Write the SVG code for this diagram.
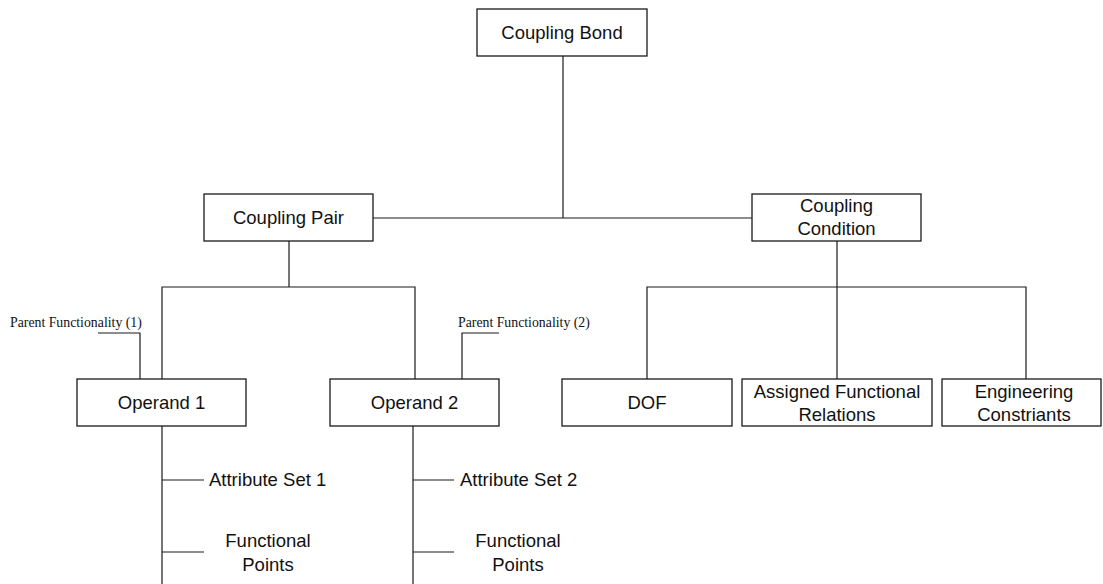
<svg xmlns="http://www.w3.org/2000/svg" width="1103" height="584" viewBox="0 0 1103 584">
  <style>
    .box { fill: #ffffff; stroke: #1a1a1a; stroke-width: 1.3; }
    .lbl { font-family: "Liberation Sans", Arial, sans-serif; font-size: 18.5px; fill: #111111; text-anchor: middle; }
    .side { font-family: "Liberation Sans", Arial, sans-serif; font-size: 18.5px; fill: #111111; }
    .note { font-family: "Liberation Serif", "Times New Roman", serif; font-size: 13.8px; fill: #111111; }
    .wire { fill: none; stroke: #1a1a1a; stroke-width: 1.2; }
  </style>
  <rect width="1103" height="584" fill="#ffffff"/>

  <!-- tree connectors -->
  <g id="connectors">
    <path class="wire" d="M563,56 V218"/>
    <path class="wire" d="M373,218 H752"/>
    <path class="wire" d="M289,241 V287"/>
    <path class="wire" d="M162,379 V287 H415 V379"/>
    <path class="wire" d="M98,333 H140 V379"/>
    <path class="wire" d="M499,333 H462 V379"/>
    <path class="wire" d="M837,241 V379"/>
    <path class="wire" d="M647,379 V287 H1026 V379"/>
    <path class="wire" d="M162,426 V584 M162,480 H204 M162,552 H204"/>
    <path class="wire" d="M413,426 V584 M413,480 H454 M413,552 H454"/>
  </g>

  <g id="coupling-bond">
    <rect class="box" x="477" y="9" width="170" height="47"/>
    <text class="lbl" x="562" y="39">Coupling Bond</text>
  </g>

  <g id="coupling-pair">
    <rect class="box" x="204" y="194" width="169" height="47"/>
    <text class="lbl" x="288.5" y="224">Coupling Pair</text>
  </g>

  <g id="coupling-condition">
    <rect class="box" x="752" y="194" width="169" height="47"/>
    <text class="lbl" x="836.5" y="212">Coupling</text>
    <text class="lbl" x="836.5" y="235">Condition</text>
  </g>

  <g id="parent-functionality-1">
    <text class="note" x="10" y="327">Parent Functionality (1)</text>
  </g>

  <g id="parent-functionality-2">
    <text class="note" x="458" y="327">Parent Functionality (2)</text>
  </g>

  <g id="operand-1">
    <rect class="box" x="77" y="379" width="169" height="47"/>
    <text class="lbl" x="161.5" y="409">Operand 1</text>
  </g>

  <g id="operand-2">
    <rect class="box" x="330" y="379" width="169" height="47"/>
    <text class="lbl" x="414.5" y="409">Operand 2</text>
  </g>

  <g id="dof">
    <rect class="box" x="562" y="379" width="170" height="47"/>
    <text class="lbl" x="647" y="409">DOF</text>
  </g>

  <g id="assigned-functional-relations">
    <rect class="box" x="742" y="379" width="190" height="47"/>
    <text class="lbl" x="837" y="398">Assigned Functional</text>
    <text class="lbl" x="837" y="421">Relations</text>
  </g>

  <g id="engineering-constraints">
    <rect class="box" x="942" y="379" width="159" height="47"/>
    <text class="lbl" x="1024" y="398">Engineering</text>
    <text class="lbl" x="1024" y="421">Constriants</text>
  </g>

  <g id="attribute-set-1">
    <text class="side" x="209" y="486">Attribute Set 1</text>
  </g>

  <g id="functional-points-1">
    <text class="lbl" x="268" y="547">Functional</text>
    <text class="lbl" x="268" y="571">Points</text>
  </g>

  <g id="attribute-set-2">
    <text class="side" x="460" y="486">Attribute Set 2</text>
  </g>

  <g id="functional-points-2">
    <text class="lbl" x="518" y="547">Functional</text>
    <text class="lbl" x="518" y="571">Points</text>
  </g>
</svg>
